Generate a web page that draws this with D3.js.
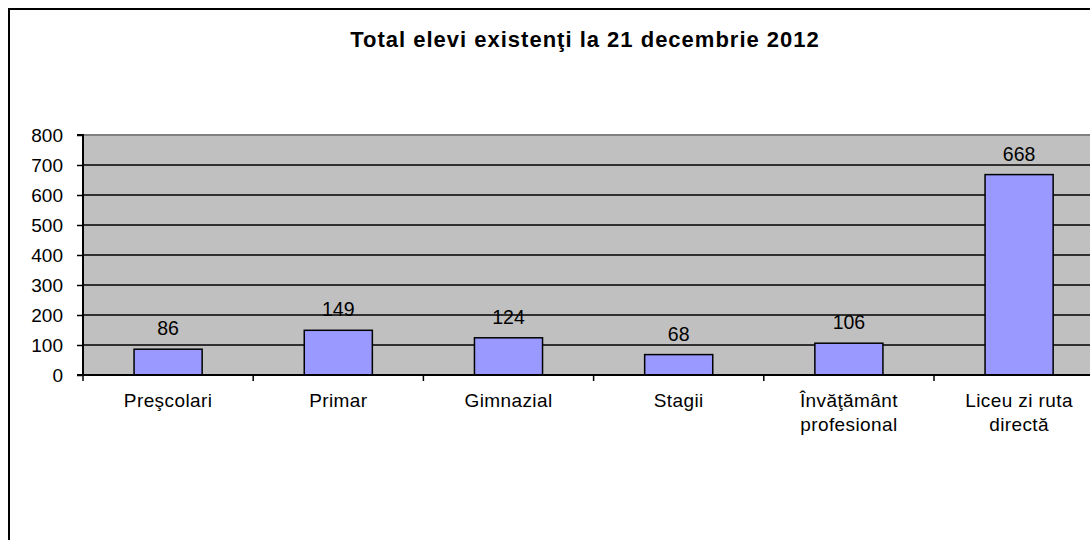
<!DOCTYPE html>
<html>
<head>
<meta charset="utf-8">
<script src="https://cdnjs.cloudflare.com/ajax/libs/d3/7.8.5/d3.min.js"></script>
<style>
html,body{margin:0;padding:0;background:#fff;overflow:hidden;}
svg{display:block;}
text{font-family:"Liberation Sans",Arial,sans-serif;fill:#000;}
</style>
</head>
<body>
<svg id="chart" width="1090" height="540"></svg>
<script>
const title = "Total elevi existenţi la 21 decembrie 2012";
const categories = ["Preşcolari","Primar","Gimnazial","Stagii","Învăţământ profesional","Liceu zi ruta directă"];
const categoryLines = [["Preşcolari"],["Primar"],["Gimnazial"],["Stagii"],["Învăţământ","profesional"],["Liceu zi ruta","directă"]];
const values = [86,149,124,68,106,668];
const yTicks = [0,100,200,300,400,500,600,700,800];

(function(){
const svg = d3.select("#chart");
const pLeft = 83, pTop = 135, pBottom = 375, step = 170.2;
const pRight = pLeft + step * categories.length;

// outer chart border
svg.append("rect").attr("x",9).attr("y",9).attr("width",1300).attr("height",700)
  .attr("fill","#fff").attr("stroke","#000").attr("stroke-width",2);

const x = d3.scaleBand().domain(categories).range([pLeft,pRight]).paddingInner(0.6).paddingOuter(0.3);
const y = d3.scaleLinear().domain([0,800]).range([pBottom,pTop]);

// plot area
svg.append("rect").attr("x",pLeft).attr("y",pTop).attr("width",pRight-pLeft).attr("height",pBottom-pTop)
  .attr("fill","#C0C0C0");
svg.append("line").attr("x1",pLeft).attr("x2",pRight).attr("y1",pTop).attr("y2",pTop)
  .attr("stroke","#808080").attr("stroke-width",2);

// gridlines
svg.append("g").selectAll("line").data(yTicks.filter(d=>d>0 && d<800)).join("line")
  .attr("x1",pLeft).attr("x2",pRight).attr("y1",d=>y(d)).attr("y2",d=>y(d))
  .attr("stroke","#000").attr("stroke-width",1.5);

// bars
svg.append("g").selectAll("rect").data(values).join("rect")
  .attr("x",(d,i)=>x(categories[i])).attr("width",x.bandwidth())
  .attr("y",d=>y(d)).attr("height",d=>pBottom-y(d))
  .attr("fill","#9999FF").attr("stroke","#000").attr("stroke-width",1.5);

// value labels
svg.append("g").selectAll("text").data(values).join("text")
  .attr("x",(d,i)=>x(categories[i])+x.bandwidth()/2).attr("y",d=>y(d)-14)
  .attr("text-anchor","middle").style("font-size","19.5px").text(d=>d);

// y axis
const yAxis = d3.axisLeft(y).tickValues(yTicks).tickSize(6).tickPadding(14);
const gy = svg.append("g").attr("transform",`translate(${pLeft},0)`).call(yAxis);
gy.select(".domain").attr("stroke","#000").attr("stroke-width",2).attr("d",`M-6,${pTop}H0V${pBottom}H-6`);
gy.selectAll(".tick line").attr("stroke","#000").attr("stroke-width",1.5);
gy.selectAll(".tick text").style("font-size","19px").style("font-family","'Liberation Sans',Arial,sans-serif").attr("fill","#000");

// x axis line
svg.append("line").attr("x1",pLeft).attr("x2",pRight).attr("y1",pBottom).attr("y2",pBottom)
  .attr("stroke","#000").attr("stroke-width",2);
// x ticks at band boundaries
const bounds = d3.range(categories.length+1).map(i=>pLeft+i*x.step());
svg.append("g").selectAll("line").data(bounds).join("line")
  .attr("x1",d=>d).attr("x2",d=>d).attr("y1",pBottom).attr("y2",pBottom+6)
  .attr("stroke","#000").attr("stroke-width",1.5);

// category labels
const cl = svg.append("g").selectAll("text").data(categoryLines).join("text")
  .attr("text-anchor","middle").style("font-size","19px").style("letter-spacing","0.4px")
  .attr("x",(d,i)=>x(categories[i])+x.bandwidth()/2).attr("y",407);
cl.selectAll("tspan").data(d=>d).join("tspan")
  .attr("x",function(){return this.parentNode.getAttribute("x");})
  .attr("dy",(d,j)=>j===0?0:24).text(d=>d);

// title
svg.append("text").attr("x",585).attr("y",47).attr("text-anchor","middle")
  .style("font-size","22px").style("font-weight","bold").style("letter-spacing","1px").text(title);
})();
</script>
</body>
</html>
